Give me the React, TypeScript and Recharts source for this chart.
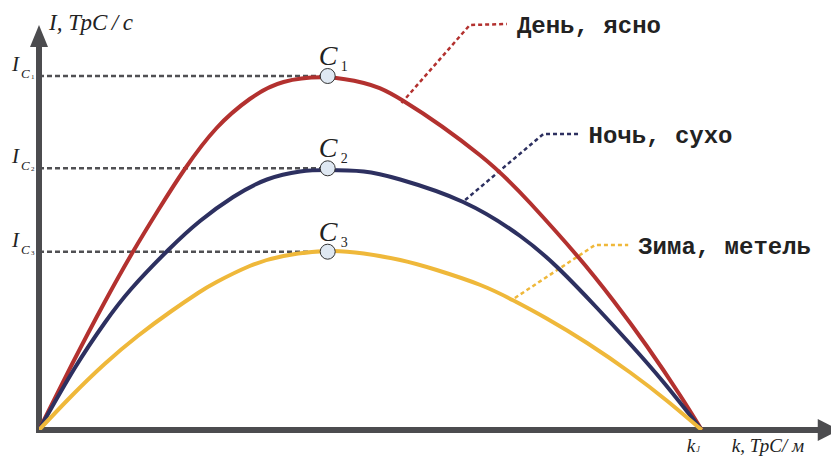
import React from 'react';
import { LineChart, Line, XAxis, YAxis, ReferenceLine, ReferenceDot } from 'recharts';

// k in units where k_J = 10, I in arbitrary units (peak of "День" ~3.5)
const redK = [0, 0.5, 1.0, 1.42, 1.8, 2.2, 2.68, 3.18, 3.69, 4.36, 4.9, 5.5, 6.65, 7.41, 8.11, 8.67, 9.17, 9.67, 10];
const redI = [0, 0.66, 1.29, 1.785, 2.2, 2.61, 3.02, 3.31, 3.48, 3.525, 3.47, 3.29, 2.75, 2.27, 1.75, 1.29, 0.84, 0.35, 0];

const blueK = [0, 0.54, 0.99, 1.39, 1.95, 2.43, 2.93, 3.44, 3.94, 4.36, 4.9, 5.45, 6.4, 7.26, 7.84, 8.42, 8.92, 9.42, 10];
const blueI = [0, 0.62, 1.07, 1.41, 1.8, 2.09, 2.33, 2.505, 2.585, 2.6, 2.585, 2.505, 2.28, 1.94, 1.615, 1.22, 0.86, 0.48, 0];

const yellowK = [0, 0.49, 0.99, 1.49, 2.0, 2.4, 2.68, 3.18, 3.69, 4.36, 4.9, 5.45, 6.0, 6.66, 7.16, 7.66, 8.27, 8.92, 9.47, 10];
const yellowI = [0, 0.34, 0.66, 0.94, 1.19, 1.37, 1.48, 1.64, 1.74, 1.79, 1.765, 1.7, 1.6, 1.45, 1.295, 1.115, 0.87, 0.575, 0.295, 0];

// optimum points C1..C3
const peakK = 4.356;
const peakI = [3.54, 2.617, 1.783];
const peakNames = ['1', '2', '3'];

// legend leader lines (curve point -> corner -> end)
const redLeadK = [5.47, 6.5, 7.06];
const redLeadI = [3.27, 4.05, 4.06];
const blueLeadK = [6.43, 7.61, 8.14];
const blueLeadI = [2.3, 2.96, 2.96];
const yellowLeadK = [7.18, 8.39, 8.89];
const yellowLeadI = [1.32, 1.85, 1.85];

const seriesNames = ['День, ясно', 'Ночь, сухо', 'Зима, метель'];

const kJ = 10;
const kMax = 11.95;
const iMax = 4.15;
const yArrowBase = 3.83;
const xArrowBase = 11.75;

const RED = '#b3312f';
const BLUE = '#2d3060';
const YELLOW = '#efb83a';
const AXIS = '#4c4c4f';
const SERIF = '"Liberation Serif", "Times New Roman", serif';
const MONO = '"Liberation Mono", "Courier New", monospace';

const toPoints = (ks: number[], is: number[]) => ks.map((k, n) => ({ k, i: is[n] }));

const red = toPoints(redK, redI);
const blue = toPoints(blueK, blueI);
const yellow = toPoints(yellowK, yellowI);
const redLead = toPoints(redLeadK, redLeadI);
const blueLead = toPoints(blueLeadK, blueLeadI);
const yellowLead = toPoints(yellowLeadK, yellowLeadI);

const leaders = [
  { data: redLead, color: RED },
  { data: blueLead, color: BLUE },
  { data: yellowLead, color: YELLOW }
];

export default function App() {
  return (
    <div style={{ position: 'absolute', left: 0, top: 0, background: '#fff' }}>
      <LineChart width={831} height={457} margin={{ top: 15, right: 0, bottom: 27, left: 39 }}>
        <XAxis type="number" dataKey="k" domain={[0, kMax]} hide allowDataOverflow />
        <YAxis type="number" dataKey="i" domain={[0, iMax]} hide allowDataOverflow />

        {/* dashed guides to the optimum points */}
        {peakI.map(v => (
          <ReferenceLine
            key={'g' + v}
            segment={[{ x: 0, y: v }, { x: peakK, y: v }]}
            stroke="#505053"
            strokeWidth={2.5}
            strokeDasharray="5 3"
          />
        ))}

        {/* axes */}
        <ReferenceLine segment={[{ x: 0, y: 0 }, { x: 0, y: yArrowBase }]} stroke={AXIS} strokeWidth={6} strokeLinecap="square" />
        <ReferenceLine segment={[{ x: 0, y: 0 }, { x: xArrowBase, y: 0 }]} stroke={AXIS} strokeWidth={6} strokeLinecap="square" />

        {leaders.map((l, n) => (
          <Line
            key={'lead' + n}
            data={l.data}
            dataKey="i"
            type="linear"
            stroke={l.color}
            strokeWidth={2.5}
            strokeDasharray="4 3"
            dot={false}
            activeDot={false}
            isAnimationActive={false}
          />
        ))}

        <Line data={red} dataKey="i" type="natural" stroke={RED} strokeWidth={4} dot={false} activeDot={false} isAnimationActive={false} />
        <Line data={blue} dataKey="i" type="natural" stroke={BLUE} strokeWidth={4} dot={false} activeDot={false} isAnimationActive={false} />
        <Line data={yellow} dataKey="i" type="natural" stroke={YELLOW} strokeWidth={4} dot={false} activeDot={false} isAnimationActive={false} />

        {/* arrow heads and axis titles */}
        <ReferenceDot
          x={0}
          y={yArrowBase}
          r={0}
          shape={(p: any) => (
            <g>
              <polygon points={`${p.cx - 9},${p.cy} ${p.cx + 9},${p.cy} ${p.cx},${p.cy - 22}`} fill={AXIS} />
              <text x={p.cx + 10} y={p.cy - 17} fontFamily={SERIF} fontStyle="italic" fontSize={23} fill="#222">
                I, ТрС{'\u2009'}/{'\u2009'}с
              </text>
            </g>
          )}
        />
        <ReferenceDot
          x={xArrowBase}
          y={0}
          r={0}
          shape={(p: any) => (
            <g>
              <polygon points={`${p.cx},${p.cy - 11} ${p.cx},${p.cy + 11} ${p.cx + 22},${p.cy}`} fill={AXIS} />
              <text x={p.cx - 86} y={p.cy + 22} fontFamily={SERIF} fontStyle="italic" fontSize={19} fill="#222">
                k, ТрС/ м
              </text>
            </g>
          )}
        />
        <ReferenceDot
          x={kJ}
          y={0}
          r={0}
          shape={(p: any) => (
            <text x={p.cx - 15} y={p.cy + 22} fontFamily={SERIF} fontStyle="italic" fill="#222">
              <tspan fontSize={19}>k</tspan>
              <tspan fontSize={8} dx={1}>J</tspan>
            </text>
          )}
        />

        {/* I_C labels on the vertical axis */}
        {peakI.map((v, n) => (
          <ReferenceDot
            key={'ic' + n}
            x={0}
            y={v}
            r={0}
            shape={(p: any) => (
              <g fontFamily={SERIF} fill="#222">
                <text x={p.cx - 27} y={p.cy - 5} fontSize={21} fontStyle="italic">I</text>
                <text x={p.cx - 18} y={p.cy + 2} fontSize={13} fontStyle="italic">C</text>
                <text x={p.cx - 8} y={p.cy + 3} fontSize={7}>{peakNames[n]}</text>
              </g>
            )}
          />
        ))}

        {/* optimum points */}
        {peakI.map((v, n) => (
          <ReferenceDot
            key={'c' + n}
            x={peakK}
            y={v}
            r={7.5}
            shape={(p: any) => (
              <g fontFamily={SERIF} fill="#222">
                <circle cx={p.cx} cy={p.cy} r={7.5} fill="#dfe8f2" stroke="#333" strokeWidth={1} />
                <text x={p.cx - 9} y={p.cy - 11} fontSize={28} fontStyle="italic">C</text>
                <text x={p.cx + 13} y={p.cy - 5} fontSize={14}>{peakNames[n]}</text>
              </g>
            )}
          />
        ))}

        {/* series names at the end of leader lines */}
        {leaders.map((l, n) => (
          <ReferenceDot
            key={'name' + n}
            x={l.data[2].k}
            y={l.data[2].i}
            r={0}
            shape={(p: any) => (
              <text x={p.cx + 10} y={p.cy + 9} fontFamily={MONO} fontWeight="bold" fontSize={24} fill="#222">
                {seriesNames[n]}
              </text>
            )}
          />
        ))}
      </LineChart>
    </div>
  );
}
